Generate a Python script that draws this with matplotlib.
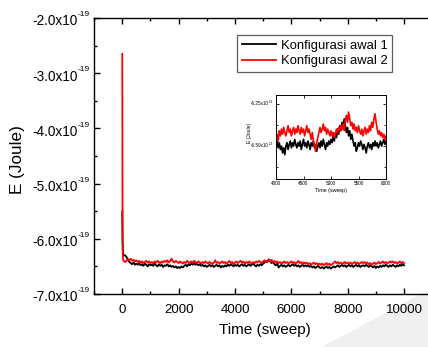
import matplotlib
matplotlib.use("Agg")
import matplotlib.pyplot as plt
import matplotlib.transforms as mtransforms
from matplotlib.patches import Polygon
import numpy as np
from matplotlib.ticker import MultipleLocator, FixedLocator, NullFormatter

plt.rcParams['font.family'] = ['Liberation Sans', 'DejaVu Sans']

SCALE = 1e-19

# ---- main series (energy in units of 1e-19 J) ----
t_early = [0, 10, 20, 30, 50]
black_early = [-5.50, -6.05, -6.22, -6.27, -6.30]
red_early = [-2.65, -5.90, -6.30, -6.38, -6.40]

t_main = list(range(100, 10001, 50))
black_main = [
    -6.30, -6.33, -6.38, -6.42, -6.44, -6.46, -6.43, -6.47, -6.45,
    -6.47, -6.44, -6.48, -6.46, -6.49, -6.45, -6.47, -6.50, -6.46, -6.48,
    -6.47, -6.49, -6.45, -6.48, -6.50, -6.46, -6.49, -6.47, -6.51, -6.48,
    -6.49, -6.46, -6.50, -6.48, -6.51, -6.49, -6.52, -6.50, -6.53, -6.51,
    -6.53, -6.50, -6.52, -6.49, -6.47, -6.50, -6.46, -6.48, -6.45, -6.47,
    -6.44, -6.47, -6.45, -6.48, -6.46, -6.49, -6.47, -6.50, -6.48, -6.51,
    -6.49, -6.47, -6.50, -6.48, -6.51, -6.49, -6.47, -6.50, -6.48, -6.52,
    -6.49, -6.51, -6.48, -6.50, -6.47, -6.49, -6.46, -6.48, -6.50, -6.47,
    -6.49, -6.47, -6.50, -6.48, -6.46, -6.49, -6.47, -6.50, -6.48, -6.46,
    -6.49, -6.47, -6.45, -6.48, -6.50, -6.47, -6.49, -6.46, -6.48, -6.45,
    -6.43, -6.40, -6.42, -6.38, -6.41, -6.44, -6.42, -6.46, -6.48, -6.45,
    -6.52, -6.49, -6.47, -6.50, -6.48, -6.51, -6.49, -6.47, -6.50, -6.48,
    -6.46, -6.49, -6.47, -6.50, -6.48, -6.51, -6.49, -6.47, -6.50, -6.48,
    -6.50, -6.48, -6.51, -6.49, -6.52, -6.50, -6.53, -6.51, -6.49, -6.52,
    -6.53, -6.51, -6.54, -6.52, -6.50, -6.53, -6.51, -6.54, -6.52, -6.50,
    -6.52, -6.50, -6.48, -6.51, -6.49, -6.47, -6.50, -6.48, -6.51, -6.49,
    -6.47, -6.50, -6.48, -6.51, -6.49, -6.47, -6.50, -6.48, -6.51, -6.49,
    -6.48, -6.50, -6.47, -6.49, -6.51, -6.48, -6.50, -6.52, -6.49, -6.53,
    -6.50, -6.52, -6.49, -6.51, -6.48, -6.50, -6.47, -6.49, -6.51, -6.48,
    -6.50, -6.47, -6.49, -6.51, -6.48, -6.50, -6.47, -6.49, -6.46, -6.48,
]
red_main = [
    -6.42, -6.40, -6.37, -6.39, -6.36, -6.40, -6.38, -6.41, -6.39,
    -6.42, -6.40, -6.43, -6.41, -6.44, -6.42, -6.40, -6.43, -6.41, -6.44,
    -6.42, -6.45, -6.41, -6.43, -6.40, -6.42, -6.44, -6.41, -6.43, -6.40,
    -6.42, -6.39, -6.43, -6.40, -6.36, -6.41, -6.43, -6.40, -6.42, -6.44,
    -6.41, -6.43, -6.45, -6.42, -6.44, -6.40, -6.42, -6.44, -6.41, -6.43,
    -6.40, -6.42, -6.44, -6.41, -6.43, -6.45, -6.42, -6.44, -6.41, -6.43,
    -6.45, -6.42, -6.44, -6.46, -6.43, -6.39, -6.44, -6.42, -6.45, -6.43,
    -6.41, -6.44, -6.42, -6.45, -6.43, -6.40, -6.44, -6.42, -6.46, -6.43,
    -6.41, -6.44, -6.42, -6.40, -6.43, -6.41, -6.45, -6.42, -6.44, -6.41,
    -6.43, -6.45, -6.42, -6.44, -6.41, -6.43, -6.40, -6.42, -6.44, -6.41,
    -6.39, -6.42, -6.40, -6.37, -6.41, -6.38, -6.42, -6.40, -6.43, -6.41,
    -6.44, -6.42, -6.45, -6.43, -6.41, -6.44, -6.42, -6.45, -6.43, -6.41,
    -6.44, -6.42, -6.45, -6.43, -6.40, -6.44, -6.42, -6.46, -6.43, -6.45,
    -6.43, -6.46, -6.44, -6.47, -6.45, -6.43, -6.46, -6.44, -6.47, -6.45,
    -6.47, -6.45, -6.48, -6.46, -6.44, -6.47, -6.45, -6.48, -6.46, -6.44,
    -6.41, -6.44, -6.42, -6.45, -6.43, -6.46, -6.44, -6.42, -6.45, -6.43,
    -6.45, -6.43, -6.46, -6.44, -6.42, -6.45, -6.43, -6.46, -6.44, -6.42,
    -6.44, -6.42, -6.45, -6.43, -6.46, -6.44, -6.47, -6.45, -6.43, -6.46,
    -6.44, -6.42, -6.45, -6.43, -6.41, -6.44, -6.42, -6.45, -6.43, -6.41,
    -6.43, -6.41, -6.44, -6.42, -6.45, -6.43, -6.41, -6.44, -6.42, -6.44,
]

# ---- inset series (4000-6000 sweeps) ----
t_inset = list(range(4000, 6001, 20))
black_inset = [
    -6.49, -6.47, -6.51, -6.48, -6.52, -6.50, -6.54, -6.51, -6.55, -6.50,
    -6.48, -6.52, -6.49, -6.47, -6.51, -6.48, -6.50, -6.46, -6.49, -6.51,
    -6.48, -6.50, -6.47, -6.52, -6.49, -6.46, -6.50, -6.48, -6.51, -6.47,
    -6.49, -6.52, -6.48, -6.50, -6.47, -6.51, -6.49, -6.53, -6.50, -6.48,
    -6.51, -6.47, -6.50, -6.46, -6.49, -6.52, -6.48, -6.50, -6.47, -6.49,
    -6.46, -6.48, -6.44, -6.47, -6.42, -6.45, -6.40, -6.43, -6.38, -6.41,
    -6.36, -6.40, -6.34, -6.38, -6.42, -6.39, -6.44, -6.41, -6.46, -6.43,
    -6.47, -6.50, -6.48, -6.53, -6.51, -6.48, -6.50, -6.47, -6.49, -6.52,
    -6.49, -6.51, -6.54, -6.50, -6.48, -6.51, -6.49, -6.52, -6.48, -6.50,
    -6.47, -6.50, -6.48, -6.51, -6.49, -6.47, -6.50, -6.48, -6.46, -6.49,
    -6.47,
]
red_inset = [
    -6.45, -6.43, -6.47, -6.41, -6.44, -6.40, -6.43, -6.39, -6.42, -6.44,
    -6.41, -6.38, -6.42, -6.40, -6.44, -6.41, -6.39, -6.43, -6.40, -6.42,
    -6.38, -6.41, -6.43, -6.39, -6.42, -6.40, -6.44, -6.41, -6.38, -6.42,
    -6.40, -6.43, -6.46, -6.42, -6.47, -6.50, -6.53, -6.48, -6.45, -6.42,
    -6.39, -6.42, -6.40, -6.37, -6.41, -6.39, -6.43, -6.40, -6.42, -6.44,
    -6.41, -6.44, -6.42, -6.45, -6.43, -6.40, -6.42, -6.39, -6.41, -6.38,
    -6.40, -6.37, -6.41, -6.35, -6.32, -6.36, -6.30, -6.34, -6.38, -6.36,
    -6.40, -6.37, -6.41, -6.39, -6.42, -6.38, -6.41, -6.43, -6.40, -6.44,
    -6.41, -6.39, -6.43, -6.40, -6.42, -6.38, -6.41, -6.36, -6.39, -6.34,
    -6.31, -6.36, -6.40, -6.43, -6.41, -6.44, -6.42, -6.45, -6.43, -6.46,
    -6.44,
]

labels = ["Konfigurasi awal 1", "Konfigurasi awal 2"]
x_ticks = [0, 2000, 4000, 6000, 8000, 10000]
y_ticks = [-7.0, -6.0, -5.0, -4.0, -3.0, -2.0]
inset_x_ticks = [4000, 4500, 5000, 5500, 6000]
inset_y_ticks = [-6.50, -6.25]

W, H = 428, 347
fig = plt.figure(figsize=(W / 100, H / 100), dpi=100)

# faint background swoosh of the source page
fig.add_artist(Polygon([[322 / W, 0], [1, (347 - 290) / H], [1, 0]], closed=True,
                       transform=fig.transFigure, facecolor='#efefef', edgecolor='none', zorder=0))

def px(l, r, b, t):
    return [l / W, 1 - b / H, (r - l) / W, (b - t) / H]

AL, AR = 94.1, 432.2
AB, AT = 294, 18
ax = fig.add_axes(px(AL, AR, AB, AT))
ax.patch.set_alpha(0)
t_all = np.array(t_early + t_main)
ax.plot(t_all, np.array(black_early + black_main) * SCALE, color='black', lw=1.3, label=labels[0])
ax.plot(t_all, np.array(red_early + red_main) * SCALE, color='#ff0000', lw=1.3, label=labels[1])
ax.set_xlim(-1000, 11000)
ax.set_ylim(-7.0 * SCALE, -2.0 * SCALE)
ax.xaxis.set_major_locator(FixedLocator(x_ticks))
ax.xaxis.set_minor_locator(MultipleLocator(1000))
ax.yaxis.set_major_locator(FixedLocator([v * SCALE for v in y_ticks]))
ax.yaxis.set_minor_locator(MultipleLocator(0.5 * SCALE))
ax.yaxis.set_major_formatter(NullFormatter())
ax.tick_params(which='both', direction='in', top=True, right=False, width=1.0)
ax.tick_params(which='major', length=4.5)
ax.tick_params(which='minor', length=2.5)
ax.tick_params(axis='x', labelsize=9.5, pad=7)
for s in ax.spines.values():
    s.set_linewidth(1.0)


def sci_labels(axis, values, fmt, x_right_px, ax_left_px, ax_w_px, fs, sfs, base_dy, sup_dy):
    xa = (x_right_px - ax_left_px) / ax_w_px
    tr_main = mtransforms.offset_copy(axis.get_yaxis_transform(), fig=fig, x=0, y=base_dy, units='dots')
    tr_sup = mtransforms.offset_copy(axis.get_yaxis_transform(), fig=fig, x=0.3, y=sup_dy, units='dots')
    for v in values:
        axis.text(xa, v * SCALE, fmt.format(v), transform=tr_main, ha='right', va='baseline',
                  fontsize=fs, clip_on=False)
        axis.text(xa, v * SCALE, "-19", transform=tr_sup, ha='left', va='baseline',
                  fontsize=sfs, clip_on=False)


sci_labels(ax, y_ticks, "{:.1f}x10", 77.3, AL, AR - AL, 9.8, 6.0, -7.4, 1.8)

ax.set_xlabel("Time (sweep)", fontsize=11)
ax.xaxis.set_label_coords((265 - AL) / (AR - AL), -(323 - AB) / (AB - AT))
ax.set_ylabel("E (Joule)", fontsize=12.3)
ax.yaxis.set_label_coords((25 - AL) / (AR - AL), (AB - 160) / (AB - AT))
leg = ax.legend(loc='upper left', bbox_to_anchor=((237 - AL) / (AR - AL), 1 - (35 - AT) / (AB - AT)),
                fontsize=9.4, frameon=True, fancybox=False, edgecolor='#333333',
                handlelength=2.6, handletextpad=0.4, borderpad=0.35, labelspacing=0.25,
                borderaxespad=0)
leg.get_frame().set_linewidth(0.9)

# ---- inset ----
IL, IR, IB, IT = 276, 386, 178.5, 95
ai = fig.add_axes(px(IL, IR, IB, IT))
ai.plot(t_inset, np.array(black_inset) * SCALE, color='black', lw=1.2)
ai.plot(t_inset, np.array(red_inset) * SCALE, color='#ff0000', lw=1.2)
ai.set_xlim(4000, 6000)
ai.set_ylim(-6.69 * SCALE, -6.20 * SCALE)
ai.xaxis.set_major_locator(FixedLocator(inset_x_ticks))
ai.yaxis.set_major_locator(FixedLocator([v * SCALE for v in inset_y_ticks]))
ai.yaxis.set_minor_locator(MultipleLocator(0.125 * SCALE))
ai.yaxis.set_major_formatter(NullFormatter())
ai.tick_params(which='both', direction='in', top=True, right=True, labelsize=3.3, width=0.6, pad=2)
ai.tick_params(which='major', length=2)
ai.tick_params(which='minor', length=1.5)
for s in ai.spines.values():
    s.set_linewidth(0.7)
sci_labels(ai, inset_y_ticks, "{:.2f}x10", 268.8, IL, IR - IL, 3.3, 2.2, -1.2, 1.0)
ai.set_xlabel("Time (sweep)", fontsize=3.8, labelpad=1.5)
ai.set_ylabel("E (Joule)", fontsize=3.6)
ai.yaxis.set_label_coords((251.5 - IL) / (IR - IL), (IB - 133) / (IB - IT))

fig.savefig("out.png", dpi=100)
